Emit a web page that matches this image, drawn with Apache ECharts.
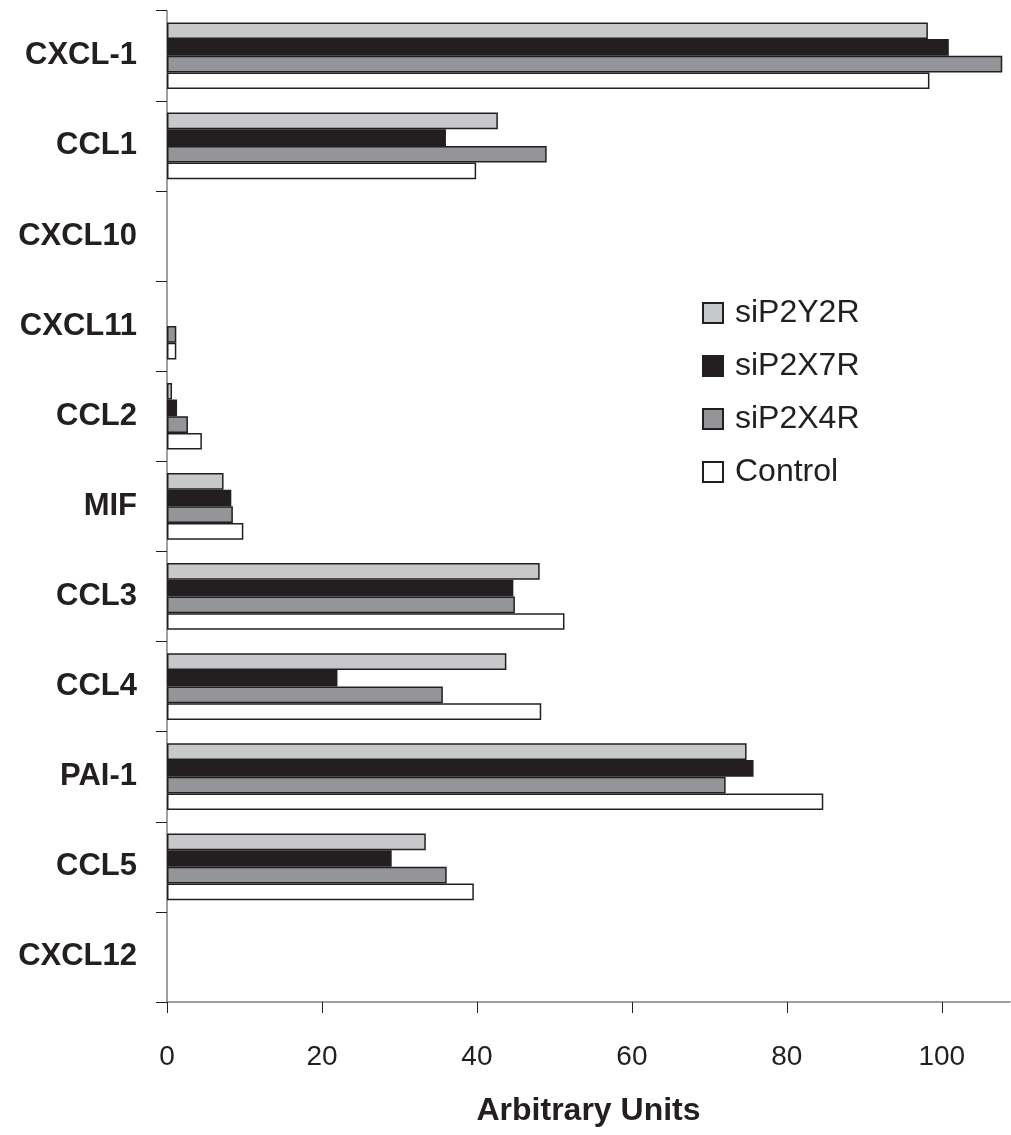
<!DOCTYPE html>
<html>
<head>
<meta charset="utf-8">
<script src="https://cdn.jsdelivr.net/npm/echarts@6/dist/echarts.min.js"></script>
<style>
html,body{margin:0;padding:0;background:#fff;}
#chart{width:1011px;height:1135px;}
</style>
</head>
<body>
<div id="chart"></div>
<script>
var categories = ['CXCL-1','CCL1','CXCL10','CXCL11','CCL2','MIF','CCL3','CCL4','PAI-1','CCL5','CXCL12'];
var siP2Y2R = [98.2, 42.7, 0, 0, 0.65, 7.3, 48.1, 43.8, 74.8, 33.4, 0];
var siP2X7R = [100.9, 36.0, 0, 0, 1.3, 8.3, 44.7, 22.0, 75.7, 29.0, 0];
var siP2X4R = [107.8, 49.0, 0, 1.2, 2.7, 8.5, 44.9, 35.6, 72.1, 36.1, 0];
var control = [98.4, 39.9, 0, 1.2, 4.5, 9.85, 51.3, 48.3, 84.7, 39.6, 0];
var xTicks = [0, 20, 40, 60, 80, 100];
var seriesNames = ['siP2Y2R','siP2X7R','siP2X4R','Control'];
var seriesData = [siP2Y2R, siP2X7R, siP2X4R, control];
var colors = ['#c7c8ca','#231f20','#939598','#ffffff'];

var FONT = "'Liberation Sans', Arial, Helvetica, sans-serif";
var chart = echarts.init(document.getElementById('chart'), null, {renderer:'canvas'});
var option = {
  animation: false,
  backgroundColor: '#ffffff',
  textStyle: {fontFamily: FONT},
  grid: {left: 167, right: 1, top: 10.7, bottom: 133, containLabel: false},
  legend: {
    orient: 'vertical',
    left: 702, top: 297,
    padding: 0,
    itemWidth: 20, itemHeight: 20,
    itemGap: 21,
    icon: 'rect',
    data: seriesNames,
    textStyle: {fontFamily: FONT, fontSize: 32, color: '#231f20', padding: [0,0,0,7]}
  },
  xAxis: {
    type: 'value',
    min: 0, max: 108.8,
    interval: 20,
    name: 'Arbitrary Units',
    nameLocation: 'middle',
    nameGap: 93,
    nameTextStyle: {fontFamily: FONT, fontSize: 32, fontWeight: 'bold', color: '#231f20'},
    axisLine: {show: true, lineStyle: {color: '#808080', width: 1.5}},
    axisTick: {show: true, length: 11, lineStyle: {color: '#231f20', width: 1}, customValues: xTicks},
    axisLabel: {fontFamily: FONT, fontSize: 28, color: '#231f20', margin: 41, customValues: xTicks},
    splitLine: {show: false}
  },
  yAxis: {
    type: 'category',
    data: categories,
    inverse: true,
    axisLine: {show: true, lineStyle: {color: '#808080', width: 1.5}},
    axisTick: {show: true, length: 11, lineStyle: {color: '#231f20', width: 1}},
    axisLabel: {fontFamily: FONT, fontSize: 31, fontWeight: 'bold', color: '#231f20', margin: 30},
    splitLine: {show: false}
  },
  series: seriesNames.map(function(n, i){
    return {
      name: n,
      type: 'bar',
      data: seriesData[i].map(function(v){
        return v === 0 ? {value: v, itemStyle: {borderWidth: 0}} : v;
      }),
      barGap: '0%',
      barCategoryGap: '26%',
      itemStyle: {color: colors[i], borderColor: '#231f20', borderWidth: 1.5}
    };
  })
};
chart.setOption(option);
</script>
</body>
</html>
